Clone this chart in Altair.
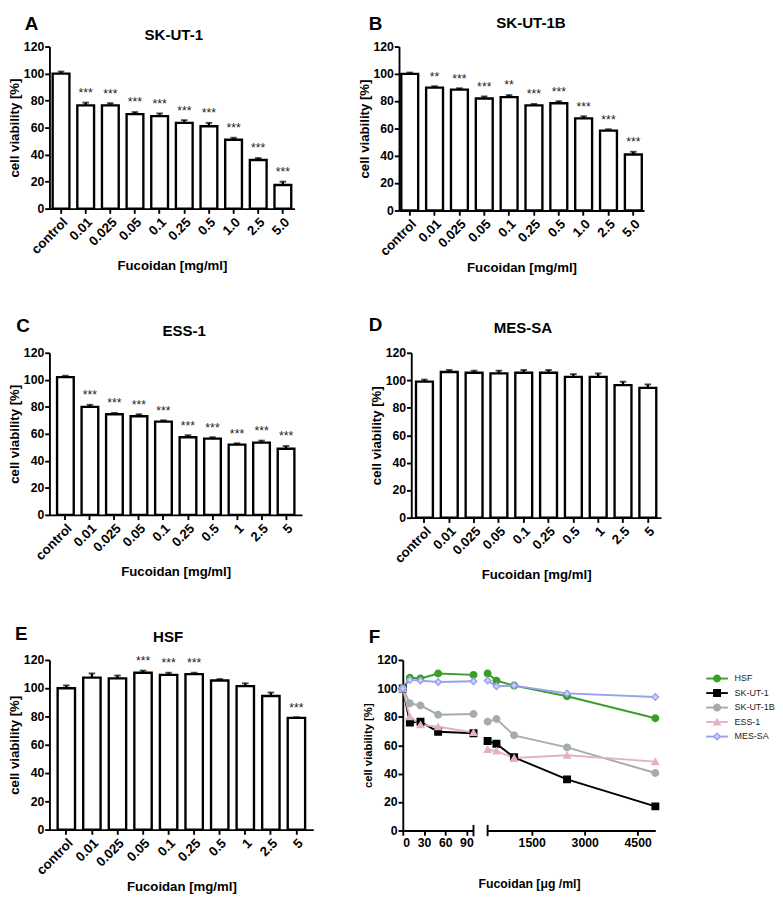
import altair as alt
import pandas as pd

FONT = "Liberation Sans"

# ---------------- data ----------------
labels_ab = ["control", "0.01", "0.025", "0.05", "0.1", "0.25", "0.5", "1.0", "2.5", "5.0"]
labels_cde = ["control", "0.01", "0.025", "0.05", "0.1", "0.25", "0.5", "1", "2.5", "5"]

a_mean = [100, 76.5, 76.5, 70, 68.5, 63.5, 61, 51, 36, 17.5]
a_err = [1.5, 2, 1.5, 1.5, 2, 2, 2.5, 1.5, 1.5, 2.5]
a_star = ["", "***", "***", "***", "***", "***", "***", "***", "***", "***"]

b_mean = [100, 90, 88.5, 82, 83, 77, 78.5, 67.5, 58.5, 41]
b_err = [1, 1, 1, 1.5, 1.5, 1, 1.5, 1.5, 1, 2]
b_star = ["", "**", "***", "***", "**", "***", "***", "***", "***", "***"]

c_mean = [102, 80, 74.5, 73, 69, 57.5, 56.5, 52, 53.5, 49]
c_err = [1, 1.5, 1, 1.5, 1, 1.5, 1, 1, 1.5, 2]
c_star = ["", "***", "***", "***", "***", "***", "***", "***", "***", "***"]

d_mean = [99, 106, 105.5, 105, 105.5, 105.5, 102.5, 102.5, 96.5, 94.5]
d_err = [1.5, 1.5, 1.5, 2, 2, 2, 2, 2.5, 2.5, 2.5]
d_star = ["", "", "", "", "", "", "", "", "", ""]

e_mean = [100, 107.5, 107, 111, 109.5, 110, 105.5, 101.5, 94.5, 79]
e_err = [2, 3, 2, 1.5, 1.5, 1, 1, 2, 2.5, 0.5]
e_star = ["", "", "", "***", "***", "***", "", "", "", "***"]

f_x = [0, 10, 25, 50, 100, 250, 500, 1000, 2500, 5000]
f_series = ["HSF", "SK-UT-1", "SK-UT-1B", "ESS-1", "MES-SA"]
f_hsf = [100, 107.5, 107, 110.5, 109.5, 110.5, 105.5, 102, 94.5, 79]
f_skut1 = [100, 76, 76.5, 69.5, 68.5, 63, 61, 51.5, 36, 17]
f_skut1b = [100, 89.5, 88, 81.5, 82, 76.5, 78.5, 67, 58.5, 40.5]
f_ess1 = [100, 80, 74.5, 73, 69, 57, 56, 51, 53, 48.5]
f_messa = [100, 106, 105.5, 104.5, 105, 105.5, 101.5, 102, 96.5, 94]

f_colors = ["#3a9f28", "#000000", "#a4acb1", "#e2b2c3", "#98a0f0"]
f_fills = ["#3a9f28", "#000000", "#a4acb1", "#e2b2c3", "#ccd1fa"]
f_shapes = ["circle", "square", "circle", "triangle-up", "diamond"]

Y_TICKS = [0, 20, 40, 60, 80, 100, 120]


def letter_mark(letter, x, y):
    # letter drawn with alphabetic baseline; y is the glyph centre
    return alt.Chart(pd.DataFrame({"t": [letter]})).mark_text(
        font=FONT, fontSize=20, fontWeight="bold", align="center", baseline="alphabetic"
    ).encode(x=alt.value(x), y=alt.value(y + 7), text="t:N")


def bar_panel(letter, name, labels, means, errs, stars, w, h, pad_outer,
              letter_xy, title_dx, title_y):
    df = pd.DataFrame({"label": labels, "mean": means, "err": errs, "star": stars})
    xax = alt.Axis(labelAngle=-45, titlePadding=3, labelFontSize=14, labelOverlap=False)
    yax = alt.Axis(values=Y_TICKS, titlePadding=2, labelPadding=1, labelOverlap=False)
    ysc = alt.Scale(domain=[0, 120], nice=False)
    x = alt.X("label:N", sort=labels, title="Fucoidan [mg/ml]",
              scale=alt.Scale(paddingInner=0.32, paddingOuter=pad_outer), axis=xax)
    base = alt.Chart(df).transform_calculate(top="datum.mean + datum.err").encode(x=x)
    bars = base.mark_bar(fill="white", stroke="black", strokeWidth=2.5).encode(
        y=alt.Y("mean:Q", scale=ysc, title="cell viability [%]", axis=yax))
    err = base.mark_rule(color="black", strokeWidth=2.5).encode(
        y=alt.Y("mean:Q", scale=ysc, title="cell viability [%]", axis=yax), y2="top:Q")
    cap = base.mark_tick(color="black", thickness=2, size=7).encode(
        y=alt.Y("top:Q", scale=ysc, title="cell viability [%]", axis=yax))
    st = base.mark_text(fontSize=13, dy=-6, baseline="alphabetic", font=FONT,
                        color="#222").encode(
        y=alt.Y("top:Q", scale=ysc, title="cell viability [%]", axis=yax), text="star:N")
    lt = letter_mark(letter, letter_xy[0], letter_xy[1])
    tt = alt.Chart(pd.DataFrame({"t": [name]})).mark_text(
        font=FONT, fontSize=16, fontWeight="bold", align="center", baseline="alphabetic"
    ).encode(x=alt.value(w / 2 + title_dx), y=alt.value(title_y + 6), text="t:N")
    return alt.layer(bars, err, cap, st, lt, tt).properties(width=w, height=h)


A = bar_panel("A", "SK-UT-1", labels_ab, a_mean, a_err, a_star, 260, 172, 0.13, (-19, -25), 2, -13)
B = bar_panel("B", "SK-UT-1B", labels_ab, b_mean, b_err, b_star, 260, 174, 0.09, (-25, -25), 10, -26)
C = bar_panel("C", "ESS-1", labels_cde, c_mean, c_err, c_star, 268, 172, 0.31, (-28, -29), 9, -24)
D = bar_panel("D", "MES-SA", labels_cde, d_mean, d_err, d_star, 265, 175, 0.19, (-38, -30), -14, -27)
E = bar_panel("E", "HSF", labels_cde, e_mean, e_err, e_star, 280, 180, 0.32, (-30, -28), -14, -25)

# ---------------- panel F ----------------
rows = []
for s, vals in zip(f_series, [f_hsf, f_skut1, f_skut1b, f_ess1, f_messa]):
    for xv, yv in zip(f_x, vals):
        rows.append({"series": s, "x": xv, "v": yv})
fdf = pd.DataFrame(rows)

FH = 181
WL, WR = 75, 178

col_l = alt.Color("series:N", scale=alt.Scale(domain=f_series, range=f_colors), legend=None)
shp = alt.Shape("series:N", scale=alt.Scale(domain=f_series, range=f_shapes), legend=None)
fil = alt.Fill("series:N", scale=alt.Scale(domain=f_series, range=f_fills), legend=None)
stk = alt.Stroke("series:N", scale=alt.Scale(domain=f_series, range=f_colors), legend=None)


def f_part(lo, hi, xaxis, yaxis, brk):
    ysc = alt.Scale(domain=[0, 120], nice=False)
    xsc = alt.Scale(domain=[lo, hi], nice=False)
    yenc = alt.Y("v:Q", scale=ysc, axis=yaxis, title="cell viability [%]")
    xenc = alt.X("x:Q", scale=xsc, axis=xaxis)
    base = alt.Chart(fdf).transform_filter(
        (alt.datum.x >= lo) & (alt.datum.x <= hi)).encode(x=xenc, y=yenc)
    line = base.mark_line(strokeWidth=2).encode(color=col_l, detail="series:N")
    pts = base.mark_point(filled=True, size=48, opacity=1, strokeWidth=1.5).encode(
        shape=shp, fill=fil, stroke=stk)
    b = alt.Chart(pd.DataFrame({"x": [brk]})).mark_rule(color="black", strokeWidth=2).encode(
        x=alt.X("x:Q", scale=xsc, axis=xaxis), y=alt.value(FH - 6), y2=alt.value(FH + 6))
    return alt.layer(line, pts, b)


f_left = alt.layer(
    f_part(0, 100,
           alt.Axis(values=[0, 30, 60, 90], title=None, labelFontSize=13, format="d",
                    labelOverlap=False),
           alt.Axis(values=Y_TICKS, titleFontSize=12, labelFontSize=13, titlePadding=2,
                    labelPadding=1, labelOverlap=False),
           100),
    letter_mark("F", -30, -25),
).properties(width=WL, height=FH)

main_r = f_part(250, 5000,
                alt.Axis(values=[1500, 3000, 4500], title="Fucoidan [\u03bcg /ml]", format="d",
                         labelOverlap=False, titleX=44, titleY=50, titleFontSize=13,
                         labelFontSize=13),
                None, 250)

leg_base = alt.Chart(pd.DataFrame({"series": f_series})).encode(
    y=alt.Y("series:N", sort=f_series, scale=alt.Scale(range=[12, 89], padding=0), axis=None))
leg_line = leg_base.mark_rule(strokeWidth=2).encode(
    x=alt.value(WR + 54), x2=alt.value(WR + 77), color=col_l)
leg_pt = leg_base.mark_point(filled=True, size=48, opacity=1, strokeWidth=1.5).encode(
    x=alt.value(WR + 65.5), shape=shp, fill=fil, stroke=stk)
leg_txt = leg_base.mark_text(align="left", baseline="middle", fontSize=9.5, font=FONT,
                             color="#222").encode(x=alt.value(WR + 84), text="series:N")
leg = alt.layer(leg_line, leg_pt, leg_txt)

f_right = alt.layer(main_r, leg).resolve_scale(y="independent").properties(width=WR, height=FH)

F = alt.hconcat(f_left, f_right, spacing=15, bounds="flush")

row1 = alt.hconcat(A, B, spacing=67)
row2 = alt.hconcat(C, D, spacing=70)
row3 = alt.hconcat(E, F, spacing=52)

chart = alt.vconcat(
    alt.vconcat(row1, row2, spacing=44),
    row3, spacing=46,
).properties(padding={"top": -21, "left": 0, "right": 0, "bottom": 0}).configure_view(
    stroke=None
).configure_axis(
    domainColor="black", domainWidth=2, tickColor="black", tickWidth=2, tickSize=5,
    labelFont=FONT, labelFontWeight="bold", labelFontSize=13, labelColor="black",
    labelPadding=2, labelOverlap=False, titleFont=FONT, titleFontWeight="bold",
    titleFontSize=14, titleColor="black", grid=False,
)

chart.save("out.html", embed_options={"renderer": "svg", "actions": False})
